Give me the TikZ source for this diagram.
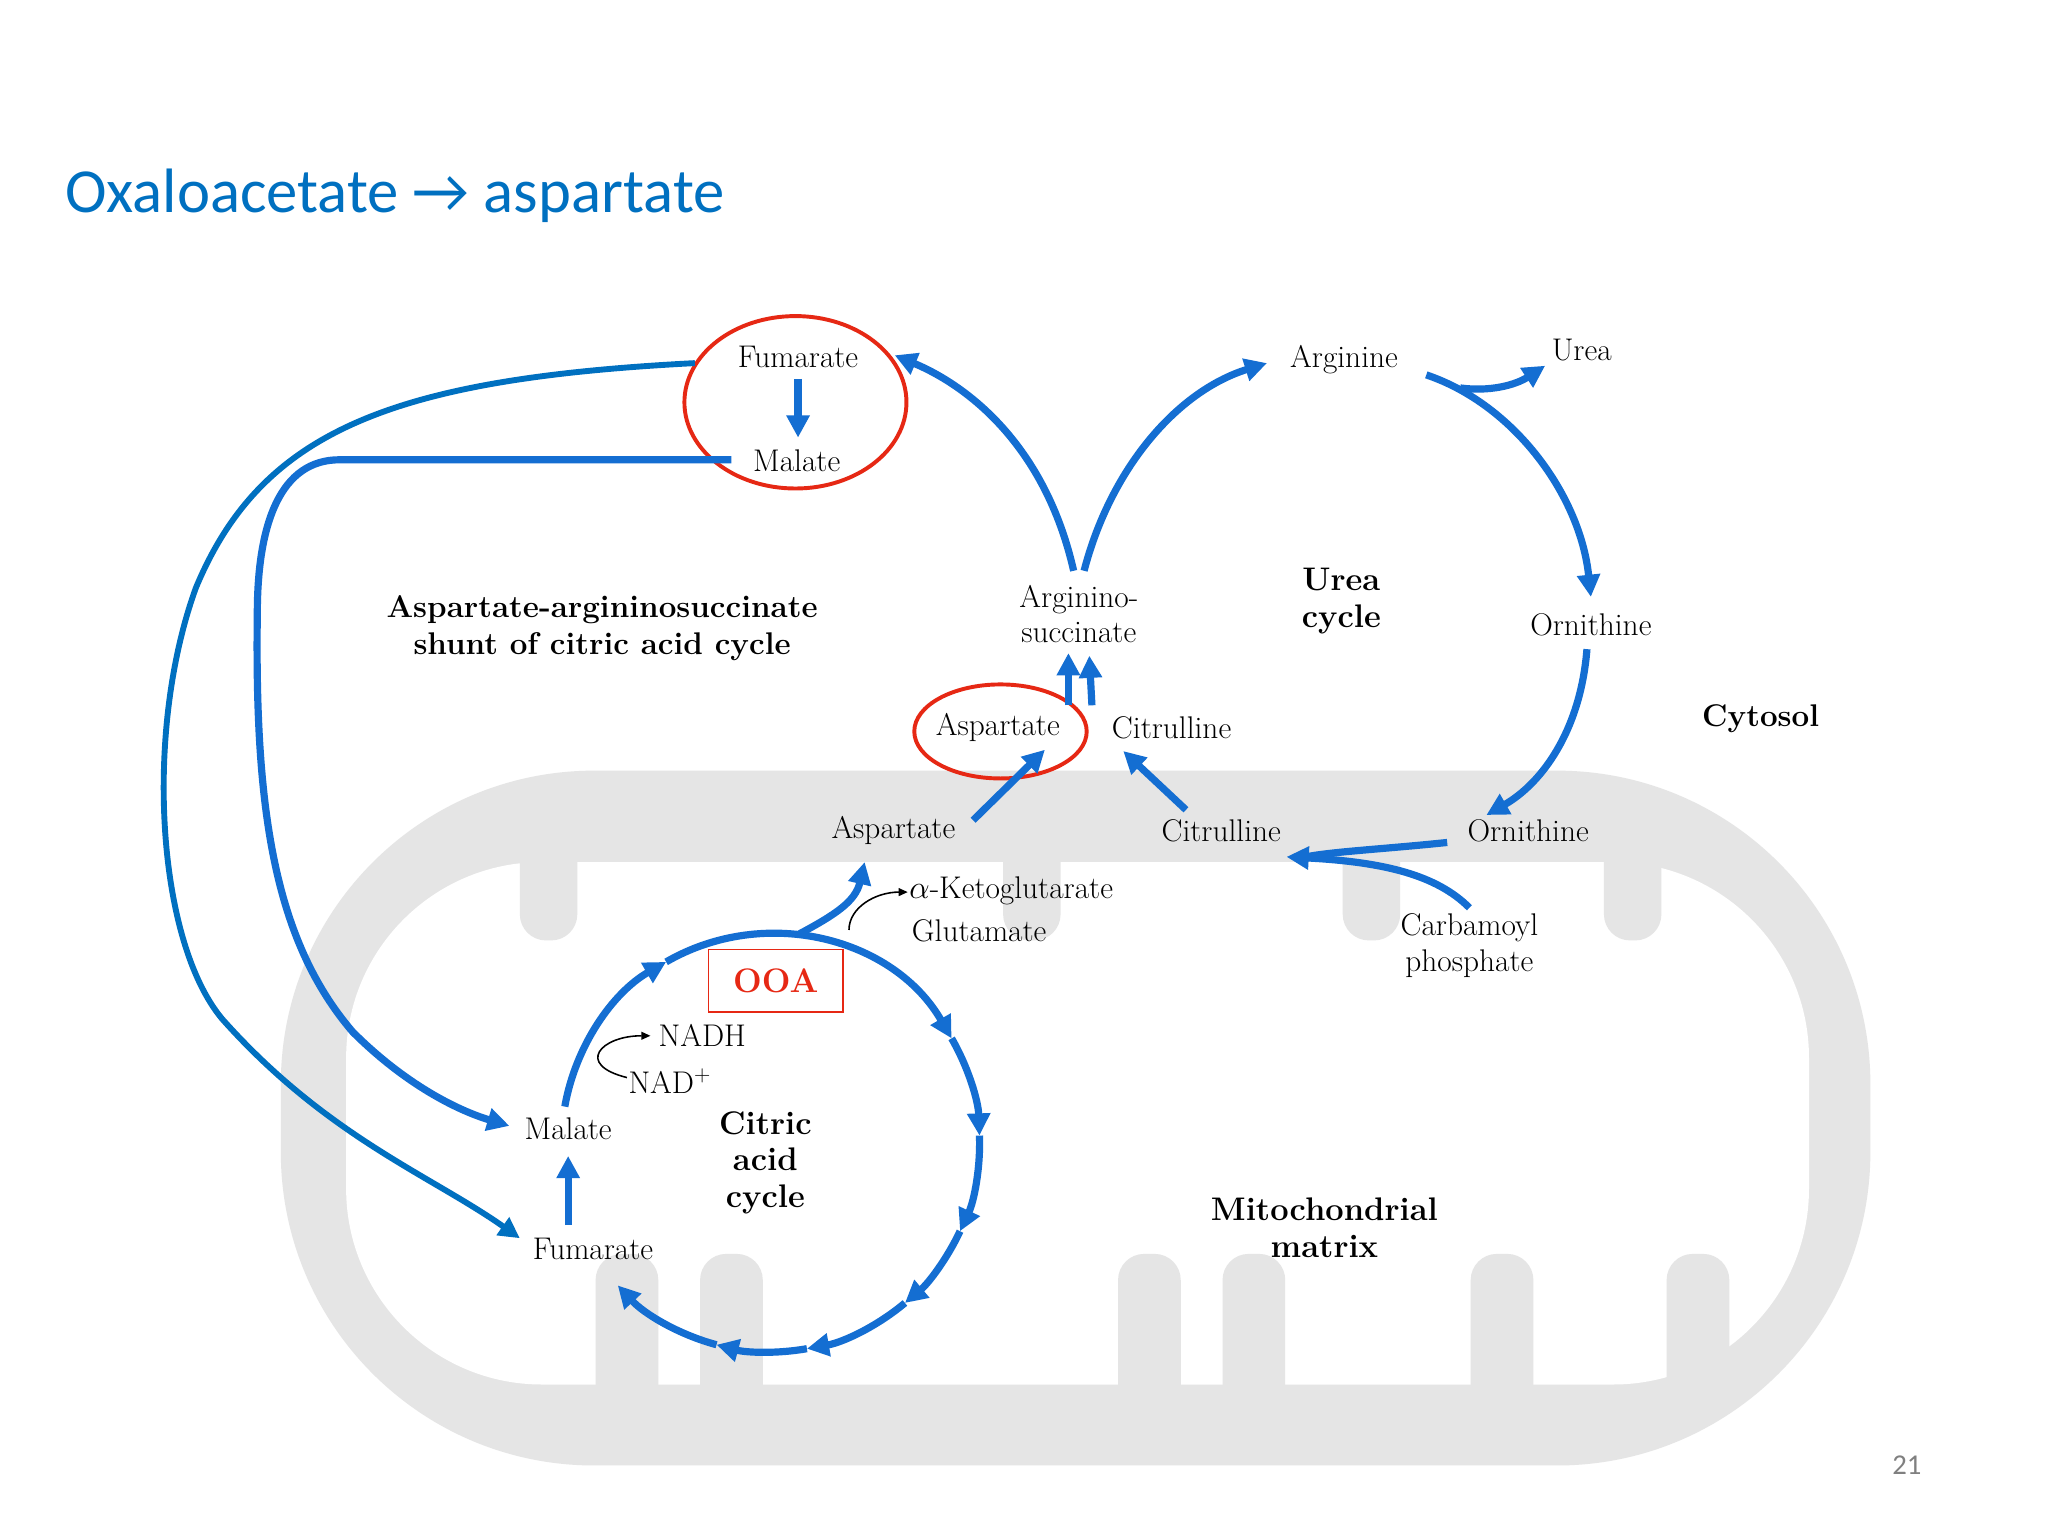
\documentclass[tikz,border=0pt]{standalone}
\usepackage{fontspec}
\newfontfamily\titlefont{Carlito}
\usetikzlibrary{arrows.meta}
\definecolor{tblue}{RGB}{0,112,192}
\definecolor{pblue}{RGB}{20,110,210}
\definecolor{ored}{RGB}{230,40,20}
\begin{document}
\begin{tikzpicture}[x=1pt,y=-1pt,
  lab/.style={font=\fontsize{24}{27}\selectfont,inner sep=1pt,align=center},
  blab/.style={lab,font=\fontsize{24}{27}\selectfont\bfseries},
  flow/.style={draw=pblue,line width=5.5pt,-{Triangle[length=17pt,width=17pt]}},
  flowp/.style={draw=pblue,line width=5.5pt},
  thin/.style={draw=black,line width=1.2pt,-{Triangle[length=7pt,width=6pt]}}]
\useasboundingbox (0,0) rectangle (1568,1176);
\fill[white] (0,0) rectangle (1568,1176);
% mitochondrion
\fill[gray!20,rounded corners=240pt] (215,590) rectangle (1432,1122);
\fill[white,rounded corners=150pt] (265,660) rectangle (1385,1060);
\foreach \x in {480,560,880,960,1150,1300}{\fill[gray!20,rounded corners=20pt] (\x-24,960) rectangle (\x+24,1090);}
\foreach \x in {420,790,1050,1250}{\fill[gray!20,rounded corners=20pt] (\x-22,600) rectangle (\x+22,720);}
% title
\node[anchor=west,text=tblue,font=\titlefont\fontsize{48}{52}\selectfont,inner sep=0] (title) at (50,150) {Oxaloacetate \textrightarrow{} aspartate};
% labels
\node[lab] (fumT) at (611,273) {Fumarate};
\node[lab] (malT) at (610,353) {Malate};
\node[lab] (arg) at (1029,275) {Arginine};
\node[lab] (urea) at (1211,268) {Urea};
\node[lab] (ornC) at (1218,478) {Ornithine};
\node[blab] (cyt) at (1348,550) {Cytosol};
\node[blab,font=\fontsize{25}{28}\selectfont\bfseries] (uc) at (1027,460) {Urea\\cycle};
\node[lab,font=\fontsize{24}{27}\selectfont] (asuc) at (826,470) {Arginino-\\succinate};
\node[lab] (aspC) at (764,557) {Aspartate};
\node[lab] (citC) at (897,557) {Citrulline};
\node[lab] (aspM) at (684,636) {Aspartate};
\node[lab] (citM) at (935,636) {Citrulline};
\node[lab] (ornM) at (1170,636) {Ornithine};
\node[lab,font=\fontsize{24}{28}\selectfont] (carb) at (1125,724) {Carbamoyl\\phosphate};
\node[lab,anchor=west] (akg) at (695,682) {$\alpha$-Ketoglutarate};
\node[lab,anchor=west] (glu) at (697,713) {Glutamate};
\node[lab,anchor=west] (nadh) at (503,793) {NADH};
\node[lab,anchor=west] (nad) at (480,828) {NAD$^+$};
\node[lab] (malM) at (435,864) {Malate};
\node[lab] (fumM) at (454,956) {Fumarate};
\node[blab,font=\fontsize{25}{28}\selectfont\bfseries] (cac) at (586,890) {Citric\\acid\\cycle};
\node[blab,font=\fontsize{24}{28}\selectfont\bfseries] (shunt) at (461,481) {Aspartate-argininosuccinate\\shunt of citric acid cycle};
\node[blab,font=\fontsize{25}{28}\selectfont\bfseries] (mm) at (1014,940) {Mitochondrial\\matrix};
\node[text=gray,font=\titlefont\fontsize{22}{24}\selectfont] (pg) at (1460,1122) {21};
% red ellipses
\draw[ored,line width=3pt] (609,308) ellipse[x radius=85,y radius=66];
\draw[ored,line width=3pt] (766,560) ellipse[x radius=66,y radius=36];
% cytosol arrows
\draw[flow] (611,290) -- (611,335);
\draw[flow] (822,437) .. controls (800,340) and (740,295) .. (685,272);
\draw[flow] (830,437) .. controls (850,360) and (900,300) .. (970,278);
\draw[flow] (1092,287) .. controls (1160,310) and (1210,380) .. (1218,457);
\coordinate (ub) at (1118,297);
\draw[flow] (ub) .. controls (1140,300) and (1160,295) .. (1183,280);
\draw[flow] (1215,497) .. controls (1210,560) and (1180,600) .. (1138,624);
\draw[flowp] (1108,645) .. controls (1060,650) and (1020,652) .. (1000,656);
\draw[flow] (1125,695) .. controls (1100,670) and (1060,660) .. (985,656);
\draw[flow] (908,620) -- (860,575);
\draw[flow] (745,628) -- (800,574);
\draw[flow] (818,540) -- (818,500);
\draw[flow] (836,540) -- (834,502);
% shunt long arrows
\draw[line width=4.5pt,draw=tblue,-{Triangle[length=16pt,width=16pt]}] (532,278) .. controls (300,290) and (200,330) .. (150,450) .. controls (110,560) and (120,720) .. (170,780) .. controls (250,870) and (330,900) .. (398,948);
\draw[flow] (560,352) -- (260,352) .. controls (215,352) and (197,400) .. (197,470) .. controls (195,620) and (210,720) .. (270,790) .. controls (310,830) and (350,850) .. (390,862);
% citric acid cycle
\coordinate (cc) at (590,875);
\foreach \a/\b in {190/240,240/330,330/358,358/385,385/410,410/440,440/465,465/497}{
  \draw[flow] ([shift={(\a:160)}]cc) arc[start angle=\a,end angle=\b,radius=160];}
\draw[flow] (435,938) -- (435,885);
\node[draw=ored,line width=1.2pt,fill=white,text=ored,font=\fontsize{26}{28}\selectfont\bfseries,minimum width=103pt,minimum height=48pt] (ooa) at (594,751) {OOA};
% OOA to aspartate
\draw[flow] (612,715) .. controls (640,700) and (655,690) .. (662,660);
\draw[thin] (650,712) .. controls (650,695) and (670,683) .. (695,683);
\draw[thin] (480,825) .. controls (440,815) and (460,793) .. (498,793);
\end{tikzpicture}
\end{document}
